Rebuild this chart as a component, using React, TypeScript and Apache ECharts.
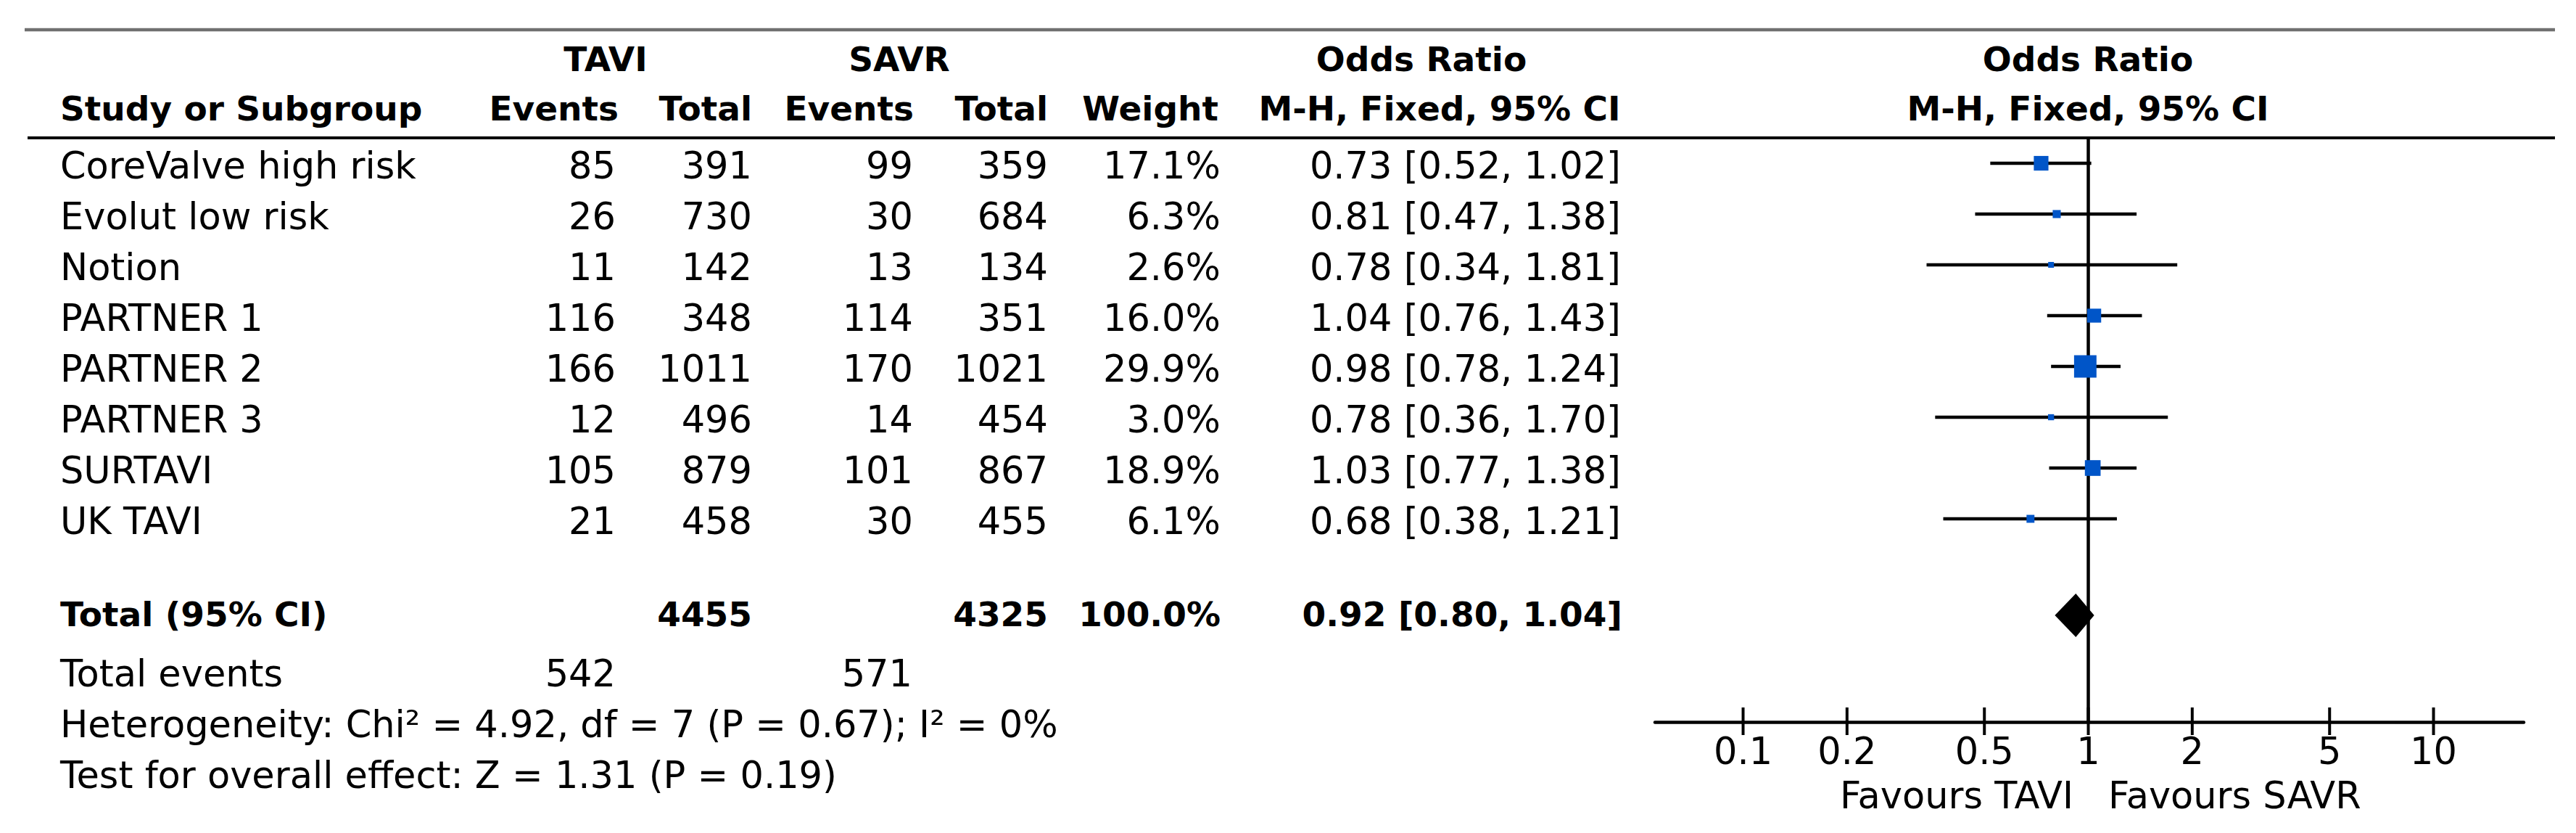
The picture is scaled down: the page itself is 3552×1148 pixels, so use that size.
import React, { useEffect, useRef } from "react";
import * as echarts from "echarts";

// ---------- data ----------
const studies = ["CoreValve high risk", "Evolut low risk", "Notion", "PARTNER 1", "PARTNER 2", "PARTNER 3", "SURTAVI", "UK TAVI"];
const taviEvents = [85, 26, 11, 116, 166, 12, 105, 21];
const taviTotal = [391, 730, 142, 348, 1011, 496, 879, 458];
const savrEvents = [99, 30, 13, 114, 170, 14, 101, 30];
const savrTotal = [359, 684, 134, 351, 1021, 454, 867, 455];
const weights = [17.1, 6.3, 2.6, 16.0, 29.9, 3.0, 18.9, 6.1];
const oddsRatio = [0.73, 0.81, 0.78, 1.04, 0.98, 0.78, 1.03, 0.68];
const ciLow = [0.52, 0.47, 0.34, 0.76, 0.78, 0.36, 0.77, 0.38];
const ciHigh = [1.02, 1.38, 1.81, 1.43, 1.24, 1.7, 1.38, 1.21];

const totalTavi = 4455;
const totalSavr = 4325;
const totalWeight = 100.0;
const totalOR = 0.92;
const totalLow = 0.8;
const totalHigh = 1.04;
const totalEventsTavi = 542;
const totalEventsSavr = 571;
const heterogeneityText = "Heterogeneity: Chi\u00b2 = 4.92, df = 7 (P = 0.67); I\u00b2 = 0%";
const overallText = "Test for overall effect: Z = 1.31 (P = 0.19)";

const tickValues = [0.1, 0.2, 0.5, 1, 2, 5, 10];
const tickLabels = ["0.1", "0.2", "0.5", "1", "2", "5", "10"];

// ---------- layout ----------
const FONT = "DejaVu Sans";
const REG = 51;
const BOLD = 47;
const GRID_TOP = 190;
const ROW_H = 70;
const Y_MIN = -0.5;
const AXIS_ROW = 11;
const TOTAL_ROW = 8.9;

const rowY = (r: number) => GRID_TOP + (r - Y_MIN) * ROW_H;

const f2 = (v: number) => v.toFixed(2);
const ciText = (o: number, l: number, h: number) => `${f2(o)} [${f2(l)}, ${f2(h)}]`;

function txt(text: string, x: number, y: number, align: string, bold = false) {
  return {
    type: "text",
    x,
    y,
    silent: true,
    style: {
      text,
      fill: "#000",
      fontFamily: FONT,
      fontSize: bold ? BOLD : REG,
      fontWeight: bold ? "bold" : "normal",
      align,
      textAlign: align,
      verticalAlign: "middle",
      textVerticalAlign: "middle",
    },
  };
}

function buildGraphics() {
  const g: any[] = [];
  g.push({ type: "line", silent: true, shape: { x1: 34, y1: 41, x2: 3523, y2: 41 }, style: { stroke: "#707070", lineWidth: 4.5 } });
  g.push({ type: "line", silent: true, shape: { x1: 38, y1: 190, x2: 3523, y2: 190 }, style: { stroke: "#000", lineWidth: 4 } });
  // header row 1
  g.push(txt("TAVI", 835, 81, "center", true));
  g.push(txt("SAVR", 1240, 81, "center", true));
  g.push(txt("Odds Ratio", 1960, 81, "center", true));
  g.push(txt("Odds Ratio", 2879, 81, "center", true));
  // header row 2
  g.push(txt("Study or Subgroup", 83, 149, "left", true));
  g.push(txt("Events", 853, 149, "right", true));
  g.push(txt("Total", 1037, 149, "right", true));
  g.push(txt("Events", 1260, 149, "right", true));
  g.push(txt("Total", 1445, 149, "right", true));
  g.push(txt("Weight", 1680, 149, "right", true));
  g.push(txt("M-H, Fixed, 95% CI", 1985, 149, "center", true));
  g.push(txt("M-H, Fixed, 95% CI", 2879, 149, "center", true));
  // study rows
  studies.forEach((s, i) => {
    const y = rowY(i) + 3;
    g.push(txt(s, 83, y, "left"));
    g.push(txt(String(taviEvents[i]), 849, y, "right"));
    g.push(txt(String(taviTotal[i]), 1037, y, "right"));
    g.push(txt(String(savrEvents[i]), 1259, y, "right"));
    g.push(txt(String(savrTotal[i]), 1445, y, "right"));
    g.push(txt(weights[i].toFixed(1) + "%", 1683, y, "right"));
    g.push(txt(ciText(oddsRatio[i], ciLow[i], ciHigh[i]), 2235, y, "right"));
  });
  // total row
  const ty = rowY(TOTAL_ROW) - 2;
  g.push(txt("Total (95% CI)", 83, ty, "left", true));
  g.push(txt(String(totalTavi), 1037, ty, "right", true));
  g.push(txt(String(totalSavr), 1445, ty, "right", true));
  g.push(txt(totalWeight.toFixed(1) + "%", 1683, ty, "right", true));
  g.push(txt(ciText(totalOR, totalLow, totalHigh), 2237, ty, "right", true));
  // footer
  g.push(txt("Total events", 83, 928, "left"));
  g.push(txt(String(totalEventsTavi), 849, 928, "right"));
  g.push(txt(String(totalEventsSavr), 1258, 928, "right"));
  g.push(txt(heterogeneityText, 83, 998, "left"));
  g.push(txt(overallText, 83, 1068, "left"));
  // favours
  g.push(txt("Favours TAVI", 2859, 1096, "right"));
  g.push(txt("Favours SAVR", 2907, 1096, "left"));
  return g;
}

export default function App() {
  const ref = useRef<HTMLDivElement>(null);
  useEffect(() => {
    if (!ref.current) return;
    const chart = echarts.init(ref.current, null, { renderer: "svg" });
    const ciData = studies.map((_, i) => [oddsRatio[i], ciLow[i], ciHigh[i], i]);
    const sqData = studies.map((_, i) => ({ value: [oddsRatio[i], i], symbolSize: 5.8 + 0.84 * weights[i] }));
    const option: any = {
      animation: false,
      backgroundColor: "#fff",
      grid: { left: 2282, top: GRID_TOP, width: 1198, height: (AXIS_ROW - Y_MIN) * ROW_H, containLabel: false },
      xAxis: {
        type: "log",
        logBase: 10,
        min: 0.05555,
        max: 18.26,
        position: "bottom",
        axisLine: { show: true, onZero: false, lineStyle: { color: "#000", width: 4.5 } },
        axisTick: { show: false },
        axisLabel: { show: false },
        splitLine: { show: false },
      },
      yAxis: {
        type: "value",
        min: Y_MIN,
        max: AXIS_ROW,
        inverse: true,
        show: false,
        splitLine: { show: false },
      },
      graphic: buildGraphics(),
      series: [
        {
          type: "custom",
          name: "null line",
          z: 1,
          silent: true,
          encode: { x: 0, y: [1, 2] },
          data: [[1, Y_MIN, AXIS_ROW]],
          renderItem: (_p: any, api: any) => {
            const a = api.coord([api.value(0), api.value(1)]);
            const b = api.coord([api.value(0), api.value(2)]);
            return { type: "line", shape: { x1: a[0], y1: a[1], x2: b[0], y2: b[1] }, style: { stroke: "#000", lineWidth: 4.5 } };
          },
        },
        {
          type: "custom",
          name: "ci",
          z: 2,
          silent: true,
          encode: { x: [0, 1, 2], y: 3 },
          data: ciData,
          renderItem: (_p: any, api: any) => {
            const a = api.coord([api.value(1), api.value(3)]);
            const b = api.coord([api.value(2), api.value(3)]);
            return { type: "line", shape: { x1: a[0], y1: a[1], x2: b[0], y2: b[1] }, style: { stroke: "#000", lineWidth: 4.5 } };
          },
        },
        {
          type: "scatter",
          name: "or",
          z: 10,
          silent: true,
          symbol: "rect",
          itemStyle: { color: "#0055C8", opacity: 1 },
          data: sqData,
        },
        {
          type: "custom",
          name: "total",
          z: 3,
          silent: true,
          encode: { x: [0, 1, 2], y: 3 },
          data: [[totalOR, totalLow, totalHigh, TOTAL_ROW]],
          renderItem: (_p: any, api: any) => {
            const c = api.coord([api.value(0), api.value(3)]);
            const l = api.coord([api.value(1), api.value(3)]);
            const h = api.coord([api.value(2), api.value(3)]);
            const hh = 30;
            return {
              type: "polygon",
              shape: { points: [[l[0], c[1]], [c[0], c[1] - hh], [h[0], c[1]], [c[0], c[1] + hh]] },
              style: { fill: "#000" },
            };
          },
        },
        {
          type: "custom",
          name: "ticks",
          z: 4,
          silent: true,
          encode: { x: 0, y: 1 },
          data: tickValues.map((v, i) => [v, AXIS_ROW, i]),
          renderItem: (_p: any, api: any) => {
            const p = api.coord([api.value(0), api.value(1)]);
            const idx = api.value(2);
            return {
              type: "group",
              children: [
                { type: "line", shape: { x1: p[0], y1: p[1] - 20, x2: p[0], y2: p[1] + 18 }, style: { stroke: "#000", lineWidth: 4 } },
                {
                  type: "text",
                  x: p[0],
                  y: p[1] + 40,
                  style: {
                    text: tickLabels[idx],
                    fill: "#000",
                    fontFamily: FONT,
                    fontSize: REG,
                    align: "center",
                    textAlign: "center",
                    verticalAlign: "middle",
                    textVerticalAlign: "middle",
                  },
                },
              ],
            };
          },
        },
      ],
    };
    chart.setOption(option);
    return () => chart.dispose();
  }, []);
  return (
    <div
      ref={ref}
      style={{ position: "fixed", left: 0, top: 0, width: 3552, height: 1148, background: "#fff" }}
    />
  );
}
